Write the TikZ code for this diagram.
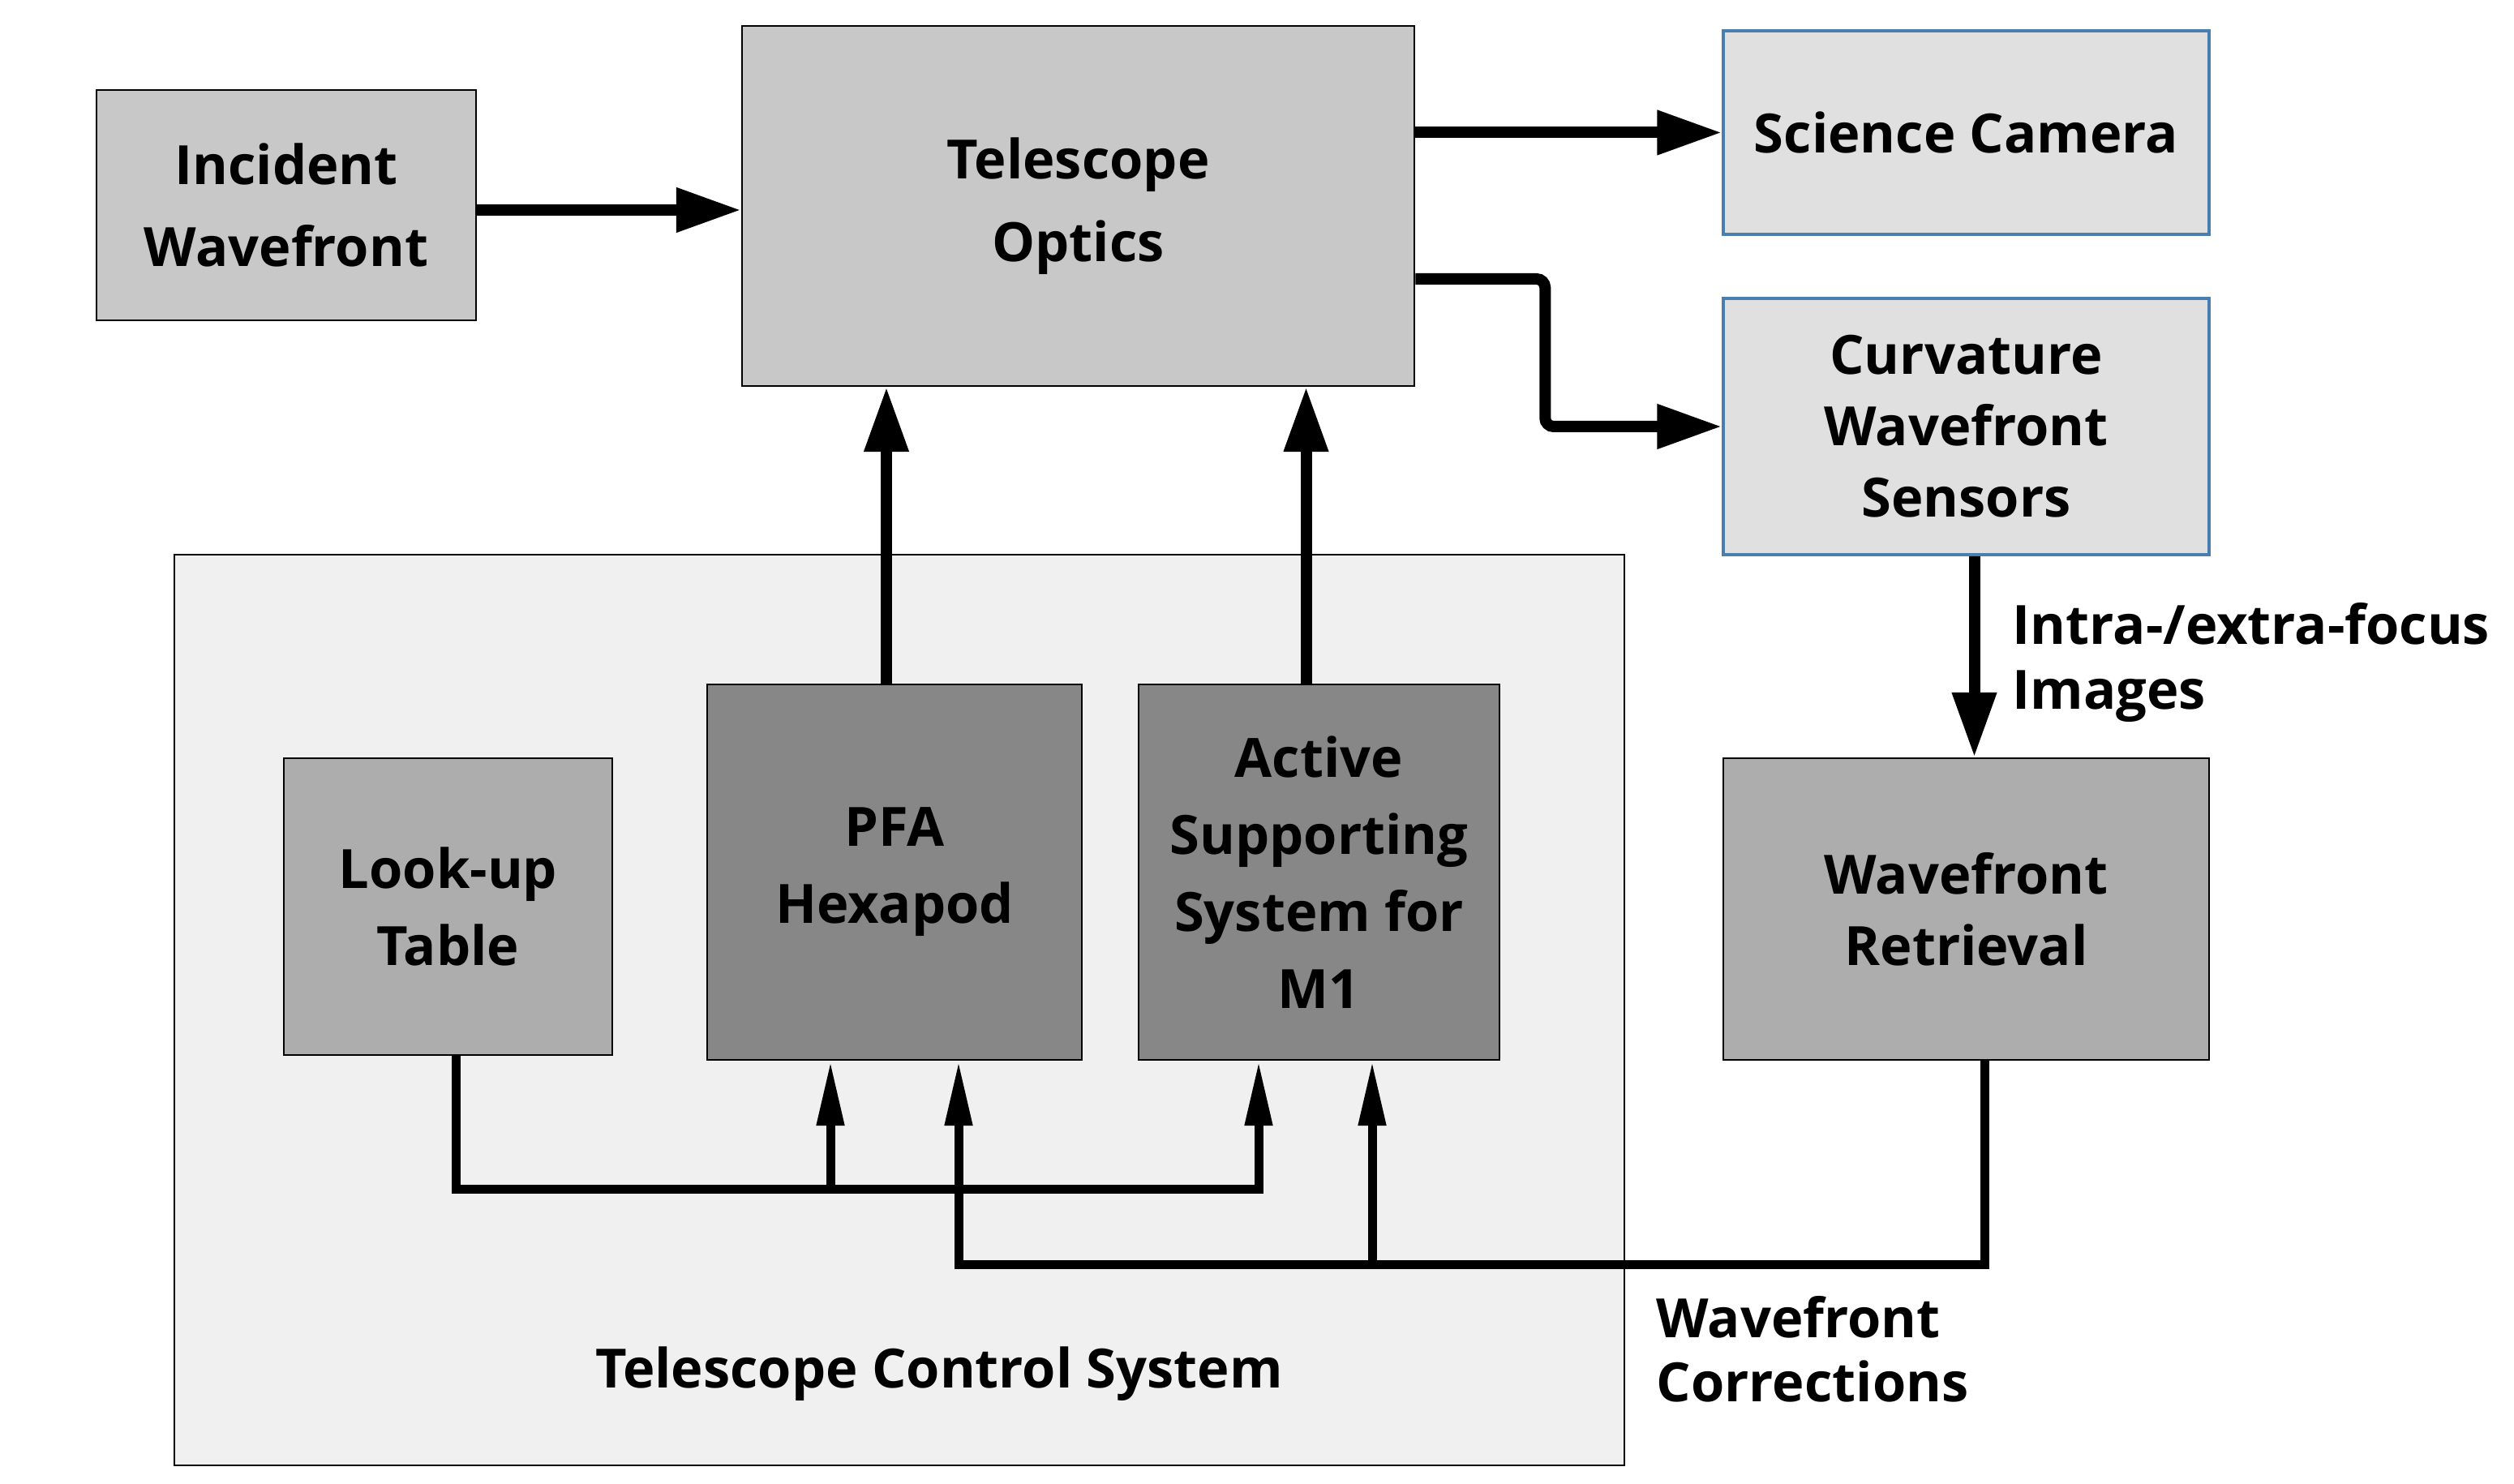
\documentclass[tikz,border=0pt]{standalone}
\usepackage{fontspec}
\setmainfont{Open Sans}
\usetikzlibrary{arrows.meta,positioning,calc}

\definecolor{optgray}{HTML}{C8C8C8}
\definecolor{sensgray}{HTML}{E0E0E0}
\definecolor{sensblue}{HTML}{4A7EAF}
\definecolor{actgray}{HTML}{878787}
\definecolor{midgray}{HTML}{ADADAD}
\definecolor{panelgray}{HTML}{F0F0F0}

\newcommand{\diagfont}[1]{\fontsize{19}{#1}\selectfont\bfseries}

\begin{document}
\begin{tikzpicture}[
            box/.style={draw, rectangle, line width=0.7pt, inner sep=0pt, align=center, font=\diagfont{27pt}},
            sensor/.style={box, draw=sensblue, line width=1pt, fill=sensgray, minimum width=5.99cm, font=\diagfont{25pt}},
            note/.style={align=left, inner sep=0pt, font=\diagfont{22.5pt}},
            flow/.style={line width=0.14cm, -{Triangle[length=0.8cm, width=0.52cm]}},
            tap/.style={line width=0.11cm, line join=miter, -{Triangle[length=0.8cm, width=0.32cm]}}
        ]
            \useasboundingbox (0,0) rectangle (31,18.3);

            % control system panel
            \node[box, fill=panelgray, minimum width=17.88cm, minimum height=11.23cm] (tcs) at (11.09,5.845) {};
            \node[font=\diagfont{27pt}] (tcslabel) at (11.58,1.36) {Telescope Control System};

            \node[box, fill=optgray, minimum width=4.68cm, minimum height=2.84cm, font=\diagfont{29pt}] (incident) at (3.53,15.77) {Incident\\Wavefront};
            \node[box, fill=optgray, minimum width=8.29cm, minimum height=4.44cm, font=\diagfont{29pt}] (optics) at (13.295,15.76) {Telescope\\Optics};
            \node[sensor, minimum height=2.51cm] (camera) at (24.245,16.665) {Science Camera};
            \node[sensor, minimum height=3.16cm] (cwfs) at (24.245,13.04) {Curvature\\Wavefront\\Sensors};
            \node[box, fill=midgray, minimum width=5.99cm, minimum height=3.72cm, font=\diagfont{25pt}] (retrieval) at (24.245,7.09) {Wavefront\\Retrieval};

            \node[box, fill=midgray, minimum width=4.05cm, minimum height=3.66cm] (lut) at (5.525,7.12) {Look-up\\Table};
            \node[box, fill=actgray, minimum width=4.62cm, minimum height=4.63cm] (pfa) at (11.03,7.545) {PFA\\Hexapod};
            \node[box, fill=actgray, minimum width=4.45cm, minimum height=4.63cm] (active) at (16.265,7.545) {Active\\Supporting\\System for\\M1};

            \node[note, anchor=west] (focus) at (24.81,10.13) {Intra-/extra-focus\\Images};
            \node[note, anchor=west] (corr) at (20.42,1.66) {Wavefront\\Corrections};

            % optical path
            \draw[flow] ([yshift=-0.06cm]incident.east) -- ([yshift=-0.06cm]incident.east -| optics.west);
            \draw[flow] (camera.west -| optics.east) -- (camera.west);
            \draw[flow, rounded corners=3pt] ([yshift=-0.9cm]optics.east) -- ++(1.6,0) |- (cwfs.west);
            \draw[flow] ([xshift=-0.1cm]pfa.north) -- ([xshift=-0.1cm]pfa.north |- optics.south);
            \draw[flow] ([xshift=-0.16cm]active.north) -- ([xshift=-0.16cm]active.north |- optics.south);
            \draw[flow] ([xshift=0.1cm]cwfs.south) -- ([xshift=0.1cm]cwfs.south |- retrieval.north);

            % look-up table feed
            \coordinate (lutbus) at ($([xshift=0.1cm]lut.south)+(0,-1.64)$);
            \draw[tap] ([xshift=0.1cm]lut.south) -- (lutbus) -| ([xshift=-0.745cm]active.south);
            \draw[tap] ([xshift=-0.79cm]pfa.south |- lutbus) -- ([xshift=-0.79cm]pfa.south);

            % wavefront corrections feed
            \coordinate (wrbus) at ($([xshift=0.23cm]retrieval.south)+(0,-2.51)$);
            \draw[tap] ([xshift=0.23cm]retrieval.south) -- (wrbus) -| ([xshift=0.79cm]pfa.south);
            \draw[tap] ([xshift=0.655cm]active.south |- wrbus) -- ([xshift=0.655cm]active.south);
        \end{tikzpicture}
\end{document}
